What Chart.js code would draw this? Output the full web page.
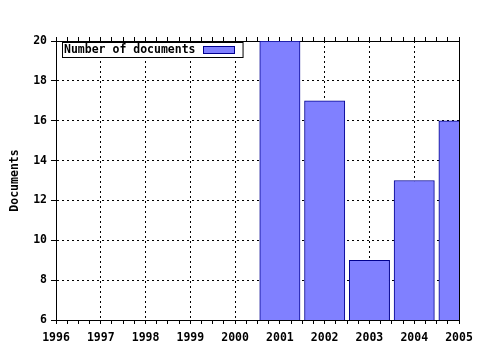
<!DOCTYPE html>
<html>
<head>
<meta charset="utf-8">
<script src="https://cdn.jsdelivr.net/npm/chart.js@4/dist/chart.umd.min.js"></script>
<style>
  html, body { margin: 0; padding: 0; background: #fff; }
  #c { display: block; }
</style>
</head>
<body>
<canvas id="c" width="480" height="350"></canvas>
<script>
// ---- data ----
const seriesLabel = 'Number of documents';
const barYears = [2001, 2002, 2003, 2004, 2005];
const documents = [20, 17, 9, 13, 16];
const yearMin = 1996;
const yearMax = 2005;
const docMin = 6;
const docMax = 20;
const yTitle = 'Documents';

const FONT = { family: '"DejaVu Sans Mono", "Liberation Mono", monospace', size: 11.5, weight: 'bold' };

const legendPlugin = {
  id: 'insideLegend',
  afterDatasetsDraw(chart) {
    const ctx = chart.ctx;
    const area = chart.chartArea;
    const ds = chart.data.datasets[0];
    ctx.save();
    ctx.font = `bold ${FONT.size}px ${FONT.family}`;
    const tw = ctx.measureText(ds.label).width;
    const x0 = area.left + 6.5, y0 = area.top + 1.5;
    const w = 2 + tw + 7 + 31 + 9, h = 15;
    ctx.fillStyle = '#fff';
    ctx.fillRect(x0, y0, w, h);
    ctx.strokeStyle = '#000';
    ctx.lineWidth = 1;
    ctx.strokeRect(x0, y0, w, h);
    ctx.fillStyle = '#000';
    ctx.textBaseline = 'middle';
    ctx.fillText(ds.label, x0 + 1.5, y0 + h / 2 + 0.5);
    const sx = Math.round(x0 + 2 + tw + 7) + 0.5;
    ctx.fillStyle = ds.backgroundColor;
    ctx.fillRect(sx, y0 + 4, 31, 7);
    ctx.strokeStyle = ds.borderColor;
    ctx.strokeRect(sx, y0 + 4, 31, 7);
    ctx.restore();
  }
};

const isYear = v => Math.abs(v - Math.round(v)) < 1e-6;

new Chart(document.getElementById('c'), {
  type: 'bar',
  data: {
    datasets: [{
      label: seriesLabel,
      data: barYears.map((y, i) => ({ x: y, y: documents[i] })),
      backgroundColor: '#8080ff',
      borderColor: '#000090',
      borderWidth: 1,
      borderSkipped: false,
      barThickness: 'flex',
      barPercentage: 0.9,
      categoryPercentage: 1.0,
      clip: 0,
      xAxisID: 'x',
      yAxisID: 'y'
    }]
  },
  options: {
    responsive: false,
    animation: false,
    devicePixelRatio: 1,
    layout: { padding: 0 },
    plugins: {
      legend: { display: false },
      tooltip: { enabled: false }
    },
    scales: {
      x: {
        type: 'linear',
        position: 'bottom',
        min: yearMin, max: yearMax,
        offset: false,
        afterFit(s) { s.height = 30; },
        grid: {
          offset: false,
          color: c => (c.tick && isYear(c.tick.value)) ? '#000' : 'rgba(0,0,0,0)',
          lineWidth: 1,
          tickColor: '#000',
          tickLength: 4,
          tickBorderDash: [],
          drawTicks: true
        },
        border: { display: true, color: '#000', width: 1, dash: [2, 3] },
        ticks: {
          stepSize: 0.25,
          autoSkip: false,
          maxRotation: 0,
          padding: 7,
          color: '#000',
          font: FONT,
          callback: v => isYear(v) ? String(Math.round(v)) : ''
        }
      },
      x2: {
        type: 'linear',
        position: 'top',
        min: yearMin, max: yearMax,
        offset: false,
        afterFit(s) { s.height = 41; },
        grid: {
          offset: false,
          drawOnChartArea: false,
          tickColor: '#000',
          tickLength: 4,
          tickBorderDash: []
        },
        border: { display: true, color: '#000', width: 1 },
        ticks: {
          stepSize: 0.25,
          autoSkip: false,
          maxRotation: 0,
          font: FONT,
          callback: () => ''
        }
      },
      y: {
        type: 'linear',
        position: 'left',
        min: docMin, max: docMax,
        afterFit(s) { s.width = 56; },
        grid: {
          color: '#000',
          lineWidth: 1,
          tickColor: '#000',
          tickLength: 5,
          tickBorderDash: []
        },
        border: { display: true, color: '#000', width: 1, dash: [2, 3] },
        ticks: {
          stepSize: 2,
          padding: 4,
          color: '#000',
          font: FONT
        },
        title: {
          display: true,
          text: yTitle,
          color: '#000',
          font: FONT,
          padding: { top: 8, bottom: 0 }
        }
      },
      y2: {
        type: 'linear',
        position: 'right',
        min: docMin, max: docMax,
        afterFit(s) { s.width = 21; },
        grid: { drawOnChartArea: false, drawTicks: false },
        border: { display: true, color: '#000', width: 1 },
        ticks: { display: false }
      }
    }
  },
  plugins: [legendPlugin]
});
</script>
</body>
</html>
